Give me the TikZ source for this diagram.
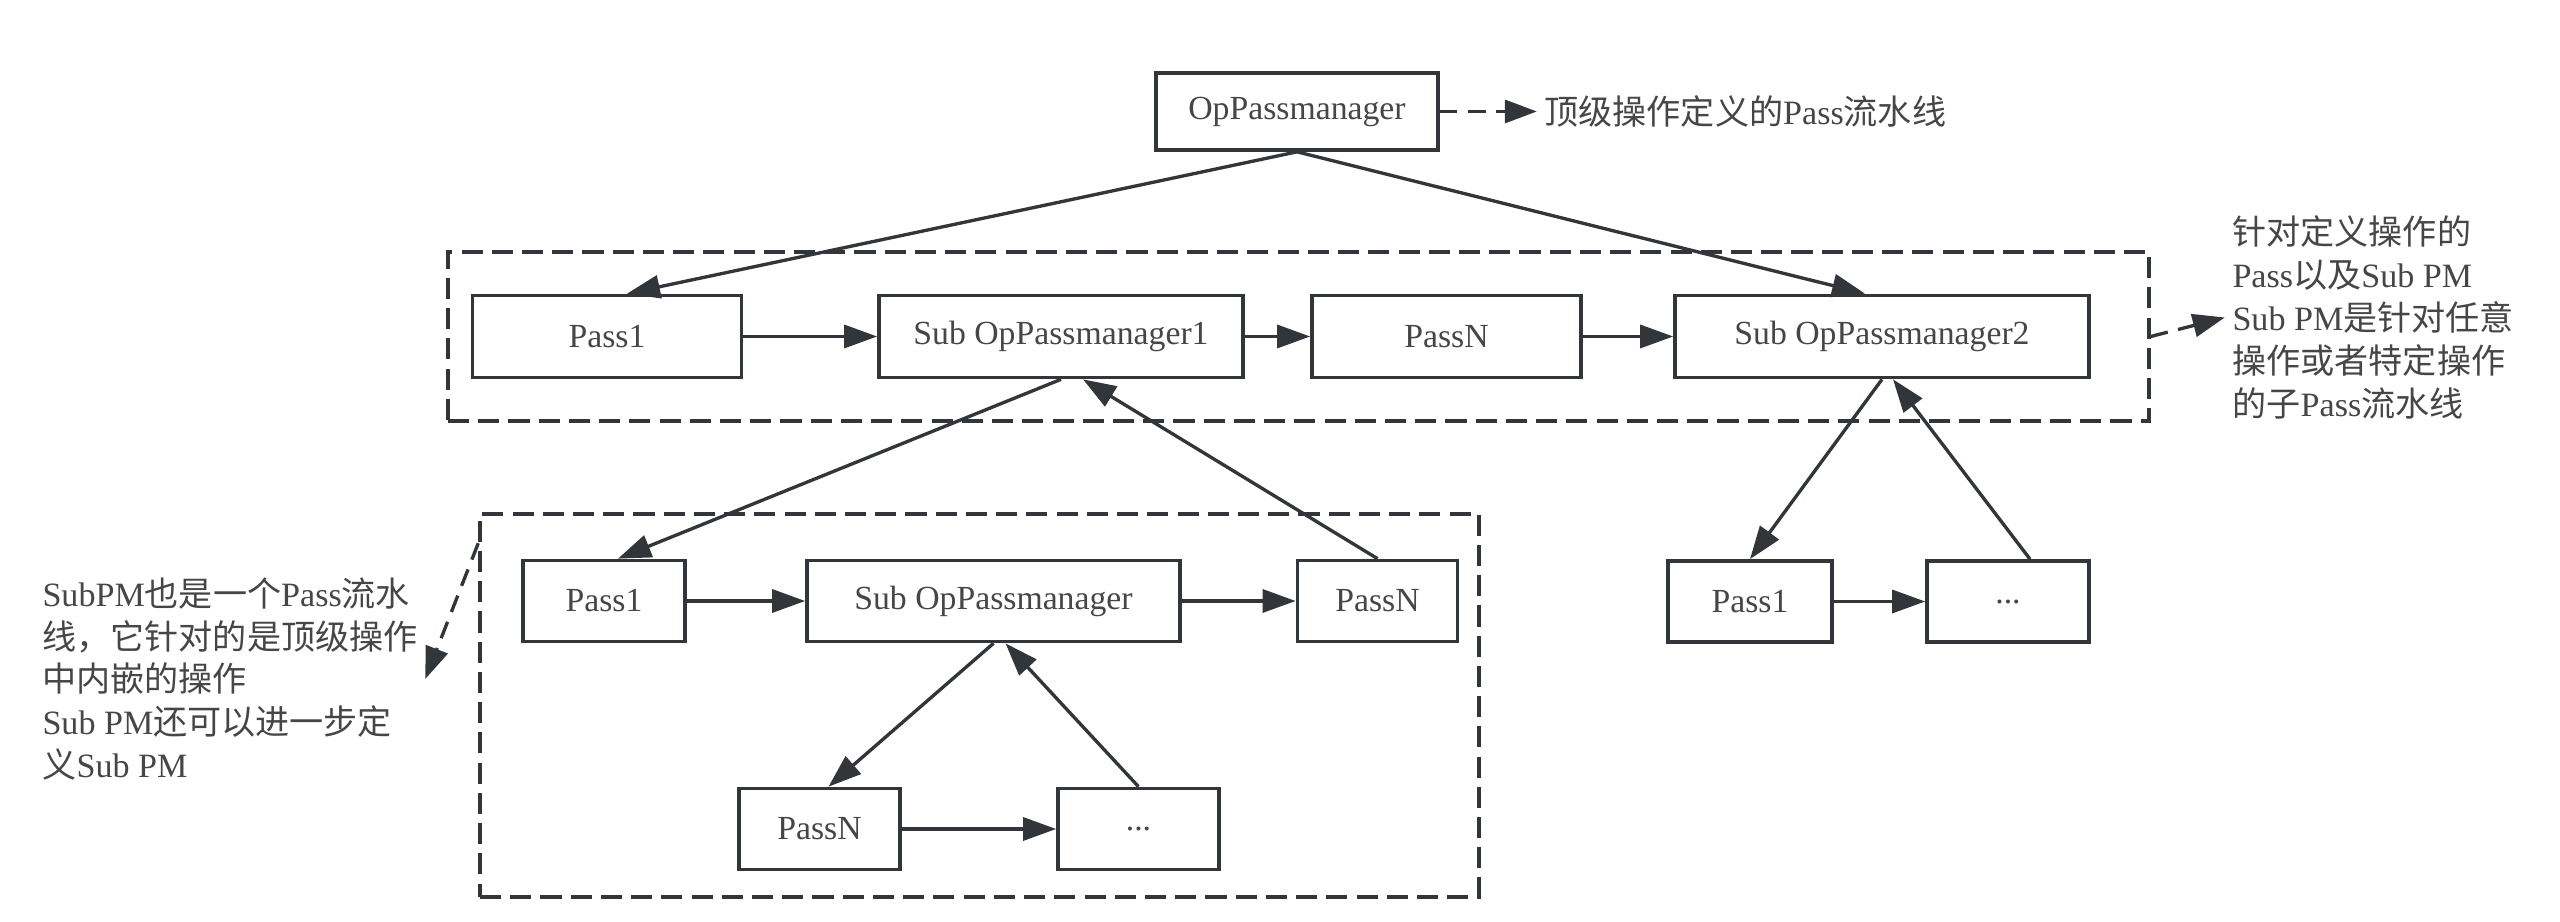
\documentclass[tikz,border=0pt]{standalone}
\usepackage{fontspec}
\setmainfont{Liberation Serif}
\newfontfamily\cjk{Noto Sans CJK SC}
\usetikzlibrary{positioning,arrows.meta}

\newcommand{\zh}[1]{{\cjk #1}}
\definecolor{edgegray}{RGB}{50,53,57}
\definecolor{labelgray}{RGB}{70,70,70}

\tikzset{node distance=2.25cm}
\tikzset{
  pass/.style={draw=edgegray, line width=1.05pt, minimum height=0.81cm, inner sep=0pt,
    text=labelgray, font=\fontsize{9.6}{11}\selectfont},
  group/.style={draw=edgegray, line width=1pt, dash pattern=on 6pt off 2.6pt, inner sep=0pt},
  link/.style={draw=edgegray, line width=0.95pt, -{Triangle[length=0.33cm,width=0.23cm]}},
  hint/.style={draw=edgegray, line width=0.95pt, dash pattern=on 5pt off 3pt,
    -{Triangle[length=0.32cm,width=0.23cm]}},
  remark/.style={align=left, inner sep=2pt, text=labelgray, font=\fontsize{9.7}{12.2}\selectfont}
}

\begin{document}
\begin{tikzpicture}
      \useasboundingbox (0,0) rectangle (25.6,-9.22);
      \node [pass, minimum width=2.82cm, minimum height=0.77cm] (top) at (12.97,-1.115) {OpPassmanager};
      % row 2
      \node [pass, below of=top, xshift=-6.90cm, minimum width=2.69cm, minimum height=0.82cm] (passA) {Pass1};
      \node [pass, below of=top, xshift=-2.36cm, minimum width=3.64cm, minimum height=0.82cm] (subA) {Sub OpPassmanager1};
      \node [pass, below of=top, xshift=1.495cm, minimum width=2.69cm, minimum height=0.82cm] (passB) {PassN};
      \node [pass, below of=top, xshift=5.85cm, minimum width=4.14cm, minimum height=0.82cm] (subB) {Sub OpPassmanager2};
      % row 3, inside subA
      \node [pass, below of=subA, yshift=-0.395cm, xshift=-4.57cm, minimum width=1.62cm] (passC) {Pass1};
      \node [pass, below of=subA, yshift=-0.395cm, xshift=-0.675cm, minimum width=3.73cm] (subC) {Sub OpPassmanager};
      \node [pass, below of=subA, yshift=-0.395cm, xshift=3.165cm, minimum width=1.60cm] (passE) {PassN};
      % row 4
      \node [pass, below of=subC, yshift=-0.03cm, xshift=-1.74cm, minimum width=1.61cm] (passF) {PassN};
      \node [pass, below of=subC, yshift=-0.03cm, xshift=1.45cm, minimum width=1.61cm] (dotsF) {...};
      % row 3, inside subB
      \node [pass, below of=subB, yshift=-0.40cm, xshift=-1.32cm, minimum width=1.64cm] (passG) {Pass1};
      \node [pass, below of=subB, yshift=-0.40cm, xshift=1.26cm, minimum width=1.62cm] (dotsG) {...};

      % dashed groups
      \node [group, minimum width=17.01cm, minimum height=1.69cm] (grpA) at (12.985,-3.365) {};
      \node [group, minimum width=9.99cm, minimum height=3.83cm] (grpB) at (9.795,-7.055) {};

      % notes
      \node [remark, right=0.97cm of top] (topnote) {\zh{顶级操作定义的}Pass\zh{流水线}};
      \node [remark, right=0.74cm of grpA, yshift=0.19cm] (rightnote)
        {\zh{针对定义操作的}\\Pass\zh{以及}Sub PM\\Sub PM\zh{是针对任意}\\\zh{操作或者特定操作}\\\zh{的子}Pass\zh{流水线}};
      \node [remark, left=0.53cm of grpB, yshift=0.265cm] (leftnote)
        {SubPM\zh{也是一个}Pass\zh{流水}\\\zh{线，它针对的是顶级操作}\\\zh{中内嵌的操作}\\Sub PM\zh{还可以进一步定}\\\zh{义}Sub PM};

      % links
      \draw [link] (top.south) -- ([xshift=0.2cm]passA.north);
      \draw [link] (top.south) -- ([xshift=-0.17cm]subB.north);
      \draw [link] (passA) -- (subA);
      \draw [link] (subA) -- (passB);
      \draw [link] (passB) -- (subB);
      \draw [link] (subA.south) -- ([xshift=0.14cm]passC.north);
      \draw [link] (passE.north) -- ([xshift=0.22cm]subA.south);
      \draw [link] (passC) -- (subC);
      \draw [link] (subC) -- (passE);
      \draw [link] (subC.south) -- ([xshift=0.09cm]passF.north);
      \draw [link] (dotsF.north) -- ([xshift=0.12cm]subC.south);
      \draw [link] (passF) -- (dotsF);
      \draw [link] (subB.south) -- (passG.north);
      \draw [link] ([xshift=0.22cm]dotsG.north) -- ([xshift=0.11cm]subB.south);
      \draw [link] (passG) -- (dotsG);
      \draw [hint] (top) -- (topnote);
      \draw [hint] (grpA.east) -- (rightnote.west);
      \draw [hint] ([yshift=-0.31cm]grpB.north west) -- (leftnote.east);
    \end{tikzpicture}
\end{document}
